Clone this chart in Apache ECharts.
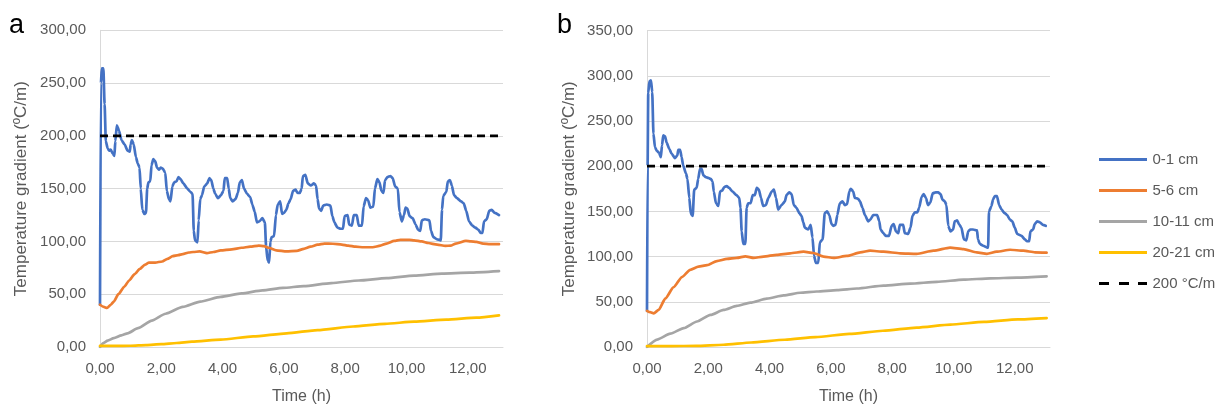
<!DOCTYPE html>
<html>
<head>
<meta charset="utf-8">
<script src="https://cdn.jsdelivr.net/npm/echarts@6/dist/echarts.min.js"></script>
<style>
  html, body { margin: 0; padding: 0; background: #fff; }
  #chart { width: 1224px; height: 410px; }
</style>
</head>
<body>
<div id="chart"></div>
<script>
// Temperature gradient over time at four depths, panels a and b.
// Each series is a list of [time (h), gradient (°C/m)] readings.

const seriesNames = ['0-1 cm', '5-6 cm', '10-11 cm', '20-21 cm', '200 °C/m'];
const seriesColors = ['#4472C4', '#ED7D31', '#A5A5A5', '#FFC000', '#000000'];
const limitValue = 200;
const timeEnd = 13.15;
const yMaxA = 300;
const yMaxB = 350;

// ---- panel a ----
const depth0A = [[0,40],[0.03,250],[0.06,264],[0.11,264],[0.15,230],[0.19,195],[0.25,188],[0.3,186],[0.35,187],[0.42,183],[0.47,181],[0.5,195],[0.55,210],[0.62,205],[0.7,196],[0.8,192],[0.9,186],[0.97,185],[1.0,192],[1.04,196],[1.1,192],[1.17,180],[1.23,174],[1.29,170],[1.33,150],[1.38,130],[1.45,126],[1.5,127],[1.54,150],[1.58,156],[1.64,157],[1.68,172],[1.74,178],[1.8,176],[1.86,170],[1.93,168],[1.98,170],[2.05,169],[2.13,165],[2.18,148],[2.25,140],[2.3,138],[2.36,152],[2.42,156],[2.5,157],[2.56,161],[2.63,159],[2.72,155],[2.85,150],[2.95,147],[3.02,145],[3.06,110],[3.1,101],[3.18,99],[3.22,120],[3.27,140],[3.33,144],[3.4,152],[3.5,155],[3.57,160],[3.63,158],[3.7,150],[3.76,145],[3.85,141],[3.95,144],[4.03,148],[4.07,160],[4.15,160],[4.2,150],[4.25,141],[4.33,138],[4.42,140],[4.5,146],[4.56,156],[4.63,158],[4.7,150],[4.8,145],[4.9,142],[4.97,135],[5.05,128],[5.12,118],[5.2,119],[5.3,122],[5.38,118],[5.42,95],[5.47,82],[5.52,80],[5.56,100],[5.6,104],[5.68,105],[5.74,125],[5.8,135],[5.88,138],[5.94,126],[6.0,127],[6.08,130],[6.15,136],[6.22,140],[6.3,148],[6.38,149],[6.45,146],[6.52,146],[6.58,150],[6.62,162],[6.7,163],[6.78,155],[6.88,153],[6.98,155],[7.05,153],[7.1,140],[7.15,131],[7.22,129],[7.28,134],[7.4,135],[7.52,134],[7.58,124],[7.65,118],[7.75,113],[7.85,112],[7.93,112],[7.98,124],[8.08,125],[8.13,116],[8.22,115],[8.28,125],[8.38,125],[8.44,115],[8.55,115],[8.6,133],[8.68,141],[8.75,139],[8.82,132],[8.92,133],[8.97,150],[9.05,159],[9.12,156],[9.18,148],[9.25,146],[9.3,158],[9.38,161],[9.48,162],[9.55,160],[9.63,152],[9.72,150],[9.77,128],[9.85,119],[9.92,125],[9.97,132],[10.03,131],[10.1,124],[10.2,122],[10.3,116],[10.38,111],[10.45,110],[10.5,120],[10.6,121],[10.75,120],[10.8,110],[10.88,104],[11.0,102],[11.12,101],[11.16,130],[11.2,143],[11.3,147],[11.35,157],[11.42,158],[11.48,153],[11.55,144],[11.65,141],[11.78,138],[11.87,136],[11.95,129],[12.04,119],[12.15,115],[12.25,113],[12.35,111],[12.42,108],[12.48,108],[12.53,119],[12.62,121],[12.7,129],[12.78,130],[12.88,127],[13.02,125]];
const depth5A = [[0,40],[0.12,38],[0.23,37],[0.35,40],[0.45,43],[0.6,50],[0.79,57],[0.95,63],[1.13,69],[1.3,74],[1.47,78],[1.6,80],[1.8,80],[2.03,81],[2.2,83.5],[2.37,86],[2.55,87],[2.7,88],[2.9,89.5],[3.04,90],[3.25,90.5],[3.49,89],[3.7,90],[3.94,91.5],[4.3,92.5],[4.62,94],[4.9,95],[5.18,96],[5.35,95.5],[5.5,94],[5.75,91.5],[6.09,90.5],[6.42,91],[6.65,93],[6.87,95],[7.1,97],[7.32,98],[7.6,97.8],[7.89,97],[8.1,96],[8.34,95],[8.6,94.5],[8.9,94.5],[9.15,96],[9.35,98],[9.6,100.5],[9.8,101.5],[10.1,101.5],[10.25,101],[10.5,100],[10.71,98.5],[11.0,97],[11.27,95.8],[11.44,96],[11.61,98],[11.94,100.5],[12.1,100],[12.28,99.5],[12.5,98],[12.73,97.4],[13.02,97.4]];
const depth10A = [[0,0],[0.11,3.7],[0.25,6],[0.45,8.4],[0.7,11],[0.9,13],[1.24,17.8],[1.69,25],[2.14,31.5],[2.7,38],[3.27,43],[3.94,47.5],[4.62,50.8],[5.3,53.7],[5.97,56],[6.65,57.7],[7.55,60.6],[8.45,63],[9.35,65.2],[10.25,67.7],[11.16,69.5],[12.06,70.4],[13.02,71.8]];
const depth20A = [[0,1],[0.5,1],[1.0,1.2],[1.5,1.8],[2.0,2.7],[2.5,3.8],[3.0,5],[3.94,7],[5,10],[6.09,13],[7.1,16],[8.26,19.4],[9.3,22],[10.25,24],[11.3,26],[12.28,27.8],[13.02,30]];

// ---- panel b ----
const depth0B = [[0,40],[0.02,200],[0.04,281],[0.08,294],[0.13,295],[0.17,282],[0.21,236],[0.26,221],[0.32,217],[0.39,215],[0.45,210],[0.49,223],[0.53,234],[0.59,233],[0.64,226],[0.73,219],[0.8,214],[0.91,209],[0.99,212],[1.02,218],[1.08,218],[1.13,210],[1.18,201],[1.27,192],[1.32,186],[1.38,165],[1.43,147],[1.49,145],[1.54,174],[1.62,176],[1.67,186],[1.73,197],[1.78,197],[1.84,190],[1.92,188],[2.0,187],[2.08,186],[2.14,183],[2.18,172],[2.25,159],[2.33,156],[2.38,172],[2.45,173],[2.52,177],[2.6,178],[2.68,176],[2.79,172],[2.92,168],[3.01,165],[3.05,154],[3.09,128],[3.14,114],[3.21,114],[3.25,154],[3.3,159],[3.38,159],[3.45,168],[3.52,168],[3.58,176],[3.65,174],[3.72,165],[3.79,156],[3.88,157],[3.96,165],[4.07,172],[4.14,174],[4.21,165],[4.28,152],[4.39,157],[4.5,161],[4.55,168],[4.64,171],[4.72,169],[4.79,157],[4.88,154],[4.97,148],[5.04,145],[5.1,138],[5.15,132],[5.26,130],[5.34,135],[5.4,121],[5.45,101],[5.51,93],[5.59,93],[5.64,116],[5.73,119],[5.8,148],[5.88,150],[5.95,146],[6.02,136],[6.08,134],[6.15,135],[6.21,146],[6.29,159],[6.38,161],[6.46,157],[6.53,158],[6.6,172],[6.65,175],[6.73,172],[6.78,165],[6.89,164],[6.95,161],[7.03,154],[7.11,146],[7.22,139],[7.29,141],[7.38,146],[7.51,146],[7.58,139],[7.62,130],[7.71,126],[7.79,123],[7.9,123],[7.98,134],[8.05,136],[8.12,128],[8.2,126],[8.25,135],[8.36,135],[8.41,126],[8.52,125],[8.6,132],[8.66,145],[8.74,149],[8.82,149],[8.88,154],[8.96,166],[9.03,169],[9.1,165],[9.17,157],[9.25,160],[9.32,170],[9.42,171],[9.5,171],[9.58,169],[9.64,163],[9.72,161],[9.77,157],[9.83,134],[9.9,128],[9.99,130],[10.04,139],[10.12,140],[10.18,136],[10.26,132],[10.34,119],[10.42,118],[10.48,128],[10.55,130],[10.64,130],[10.77,129],[10.8,119],[10.86,114],[10.97,112],[11.1,110],[11.13,110],[11.16,150],[11.24,156],[11.29,163],[11.35,167],[11.42,167],[11.49,157],[11.57,152],[11.67,148],[11.75,146],[11.84,141],[11.92,139],[12.0,132],[12.08,125],[12.22,123],[12.33,119],[12.4,117],[12.47,117],[12.51,128],[12.6,130],[12.65,136],[12.73,139],[12.82,138],[12.92,135],[13.01,134]];
const depth5B = [[0,40],[0.1,38.5],[0.22,37.3],[0.38,41],[0.6,53.7],[0.87,66.3],[1.14,77.4],[1.41,85.4],[1.68,89],[1.96,90.5],[2.28,95],[2.61,97.4],[2.93,98.5],[3.21,100.3],[3.48,98.5],[3.8,100],[4.24,102],[4.67,103.6],[5.11,105.4],[5.43,104],[5.76,100],[6.09,98.5],[6.52,100.7],[6.96,104.7],[7.28,106.5],[7.72,105.4],[8.26,103.6],[8.8,103],[9.35,106.5],[9.89,110],[10.33,108.3],[10.76,104.7],[11.09,103],[11.41,105.4],[11.85,107.6],[12.28,106.5],[12.66,104.7],[13.04,104.3]];
const depth10B = [[0,0],[0.33,8.2],[0.76,14.7],[1.2,20.9],[1.63,28.2],[2.07,35.5],[2.5,41],[2.93,45.4],[3.37,49],[3.91,53.5],[4.46,57],[5.0,60],[5.54,61.4],[6.2,62.9],[6.85,64.7],[7.72,68],[8.59,70.1],[9.46,72],[10.33,74.5],[11.2,76],[12.07,76.7],[13.04,78.1]];
const depth20B = [[0,1],[0.8,1],[1.6,1.2],[2.5,2.5],[3.4,5],[4.5,8],[5.5,11],[6.6,14.5],[7.7,18],[8.8,21.5],[9.9,24.8],[11,27.8],[12.1,30.5],[13.04,32]];

const textGray = '#595959';
const gridGray = '#D9D9D9';
const fontFamily = '"Liberation Sans", Arial, sans-serif';

function commaFixed(v) {
  return v.toFixed(2).replace('.', ',');
}

function makeXAxis(gridIndex) {
  return {
    type: 'value', gridIndex, min: 0, max: timeEnd, interval: 2,
    name: 'Time (h)', nameLocation: 'middle', nameGap: 42,
    nameTextStyle: { color: textGray, fontSize: 16, fontFamily },
    axisLine: { show: true, lineStyle: { color: gridGray, width: 1 } },
    axisTick: { show: false },
    splitLine: { show: false },
    axisLabel: {
      color: textGray, fontSize: 15, fontFamily, margin: 14,
      showMaxLabel: false,
      formatter: v => (Math.abs(v / 2 - Math.round(v / 2)) < 1e-9 ? commaFixed(v) : '')
    }
  };
}

function makeYAxis(gridIndex, max, gap) {
  return {
    type: 'value', gridIndex, min: 0, max, interval: 50,
    name: 'Temperature gradient (ºC/m)', nameLocation: 'middle', nameGap: gap,
    nameTextStyle: { color: textGray, fontSize: 17, fontFamily },
    axisLine: { show: true, lineStyle: { color: gridGray, width: 1 } },
    axisTick: { show: false },
    splitLine: { show: true, lineStyle: { color: gridGray, width: 1 } },
    axisLabel: { color: textGray, fontSize: 15, fontFamily, margin: 14, formatter: v => commaFixed(v) }
  };
}

function lineSeries(name, idx, data, color, extra) {
  return Object.assign({
    name, type: 'line', xAxisIndex: idx, yAxisIndex: idx, data,
    showSymbol: false, symbol: 'none', smooth: 0.2, smoothMonotone: 'x',
    lineStyle: { color, width: 2.7, cap: 'round', join: 'round' },
    itemStyle: { color },
    emphasis: { disabled: true },
    silent: true
  }, extra || {});
}

function panelSeries(idx, sets) {
  const out = sets.map((d, i) => lineSeries(seriesNames[i], idx, d, seriesColors[i]));
  out.push(lineSeries(seriesNames[4], idx, [[0, limitValue], [timeEnd, limitValue]], seriesColors[4], {
    smooth: false,
    lineStyle: { color: '#000', width: 2.8, type: [8, 5] }
  }));
  return out;
}

const lineIcon = 'path://M0,0h48v3h-48z';
const dashIcon = 'path://M0,0h10v3h-10z M20,0h10v3h-10z M39,0h9v3h-9z';

const chart = echarts.init(document.getElementById('chart'), null, { renderer: 'canvas' });
chart.setOption({
  animation: false,
  backgroundColor: '#ffffff',
  title: [
    { text: 'a', left: 9, top: 12, padding: 0, textStyle: { fontSize: 27, fontWeight: 'normal', color: '#000', fontFamily } },
    { text: 'b', left: 557, top: 12, padding: 0, textStyle: { fontSize: 27, fontWeight: 'normal', color: '#000', fontFamily } }
  ],
  legend: {
    orient: 'vertical', left: 1099, top: 152, padding: 0,
    itemWidth: 49, itemHeight: 3, itemGap: 16,
    itemStyle: { borderWidth: 0 },
    textStyle: { color: textGray, fontSize: 15, fontFamily },
    selectedMode: false,
    data: seriesNames.map((n, i) => ({ name: n, icon: i === 4 ? dashIcon : lineIcon }))
  },
  grid: [
    { left: 100, top: 30.3, width: 403, height: 320.4 },
    { left: 647, top: 30.6, width: 403, height: 320.2 }
  ],
  xAxis: [makeXAxis(0), makeXAxis(1)],
  yAxis: [makeYAxis(0, yMaxA, 70), makeYAxis(1, yMaxB, 69)],
  series: [
    ...panelSeries(0, [depth0A, depth5A, depth10A, depth20A]),
    ...panelSeries(1, [depth0B, depth5B, depth10B, depth20B])
  ]
});
</script>
</body>
</html>
